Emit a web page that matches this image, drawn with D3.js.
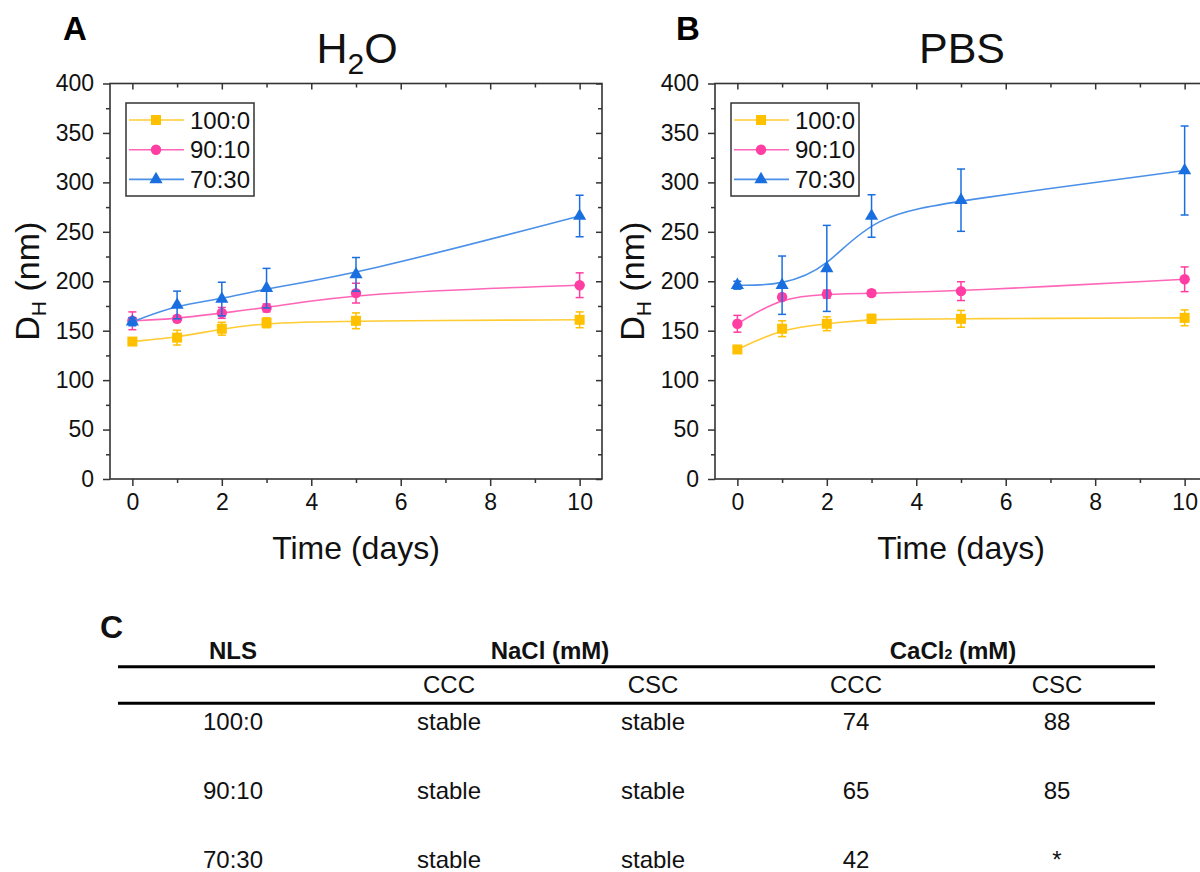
<!DOCTYPE html>
<html>
<head>
<meta charset="utf-8">
<script src="https://cdn.jsdelivr.net/npm/d3@7"></script>
<style>
  body { margin: 0; background: #fff; }
  svg { font-family: "Liberation Sans", Arial, sans-serif; }
</style>
</head>
<body>
<svg id="fig" width="1200" height="872"></svg>
<script>
// ---- data ----
const days = [0, 1, 2, 3, 5, 10];
const seriesNames = ["100:0", "90:10", "70:30"];

// H2O panel
const waterMean100 = [139, 143, 152, 158, 160, 161];
const waterErr100  = [3, 7.5, 6.5, 5, 8, 8];
const waterMean90  = [160, 162, 168, 173, 188, 196];
const waterErr90   = [9, 3, 5.5, 4, 10, 12.5];
const waterMean70  = [159, 176, 182, 193, 207, 266];
const waterErr70   = [4, 14, 17, 20, 17, 21];

// PBS panel
const pbsMean100 = [131, 152, 157, 162, 162, 163];
const pbsErr100  = [3, 8, 7, 4.5, 8.5, 8];
const pbsMean90  = [157, 184, 187, 188, 190, 202];
const pbsErr90   = [8.5, 3, 4, 3, 9.5, 12.5];
const pbsMean70  = [196, 196, 213, 266, 282, 312];
const pbsErr70   = [4, 29.5, 43.5, 21.5, 31.5, 45];

const yTicks = [0, 50, 100, 150, 200, 250, 300, 350, 400];
const yMinor = [25, 75, 125, 175, 225, 275, 325, 375];
const xTicks = [0, 2, 4, 6, 8, 10];
const xMinor = [1, 3, 5, 7, 9];

// table C
const tableHead = ["NLS", "NaCl (mM)", "CaCl"];
const tableSub  = ["", "CCC", "CSC", "CCC", "CSC"];
const tableRows = [
  ["100:0", "stable", "stable", "74", "88"],
  ["90:10", "stable", "stable", "65", "85"],
  ["70:30", "stable", "stable", "42", "*"]
];

const markerColors = ["#FFC000", "#FF3DA2", "#1A6FE0"];
const lineColors   = ["#FFCC33", "#FF66B8", "#4A90E8"];
const symbols = [d3.symbolSquare, d3.symbolCircle, d3.symbolTriangle];
const symbolSizes = [100, 85, 75];

const svg = d3.select("#fig");
svg.append("rect").attr("width", 1200).attr("height", 872).attr("fill", "#fff");

function drawPanel(left, letter, letterX, panelData) {
  const x = d3.scaleLinear().domain([-0.5, 10.5]).range([left, left + 492]);
  const y = d3.scaleLinear().domain([0, 400]).range([479, 83.5]);
  const g = svg.append("g");

  // axes
  const ax = (axis, tr) => {
    const a = g.append("g").attr("transform", tr).call(axis);
    a.select(".domain").remove();
    a.selectAll("line").attr("stroke", "#333").attr("stroke-width", 1.5);
    a.selectAll("text").attr("font-size", 23).attr("fill", "#111");
    return a;
  };
  ax(d3.axisLeft(y).tickValues(yTicks).tickSize(7).tickPadding(9), `translate(${left},0)`);
  ax(d3.axisLeft(y).tickValues(yMinor).tickSize(4).tickFormat(""), `translate(${left},0)`);
  ax(d3.axisBottom(x).tickValues(xTicks).tickSize(7).tickPadding(8), `translate(0,${y(0)})`);
  ax(d3.axisBottom(x).tickValues(xMinor).tickSize(4).tickFormat(""), `translate(0,${y(0)})`);
  ax(d3.axisTop(x).tickValues(xTicks).tickSize(-6).tickFormat(""), `translate(0,${y(400)})`);
  ax(d3.axisTop(x).tickValues(xMinor).tickSize(-4).tickFormat(""), `translate(0,${y(400)})`);
  ax(d3.axisRight(y).tickValues(yTicks).tickSize(-6).tickFormat(""), `translate(${left + 492},0)`);
  ax(d3.axisRight(y).tickValues(yMinor).tickSize(-4).tickFormat(""), `translate(${left + 492},0)`);

  g.append("rect")
    .attr("x", left).attr("y", y(400))
    .attr("width", 492).attr("height", y(0) - y(400))
    .attr("fill", "none").attr("stroke", "#333").attr("stroke-width", 1.6);

  // smoothed B-spline like the original plotting software
  const line = d3.line().x(d => x(d.t)).y(d => y(d.v)).curve(d3.curveBasis);

  panelData.series.forEach((s, i) => {
    const pts = days.map((t, k) => ({ t: t, v: s.mean[k], e: s.err[k] }));
    g.append("path").datum(pts)
      .attr("d", line).attr("fill", "none")
      .attr("stroke", lineColors[i]).attr("stroke-width", 1.6);
    const eb = g.append("g").attr("stroke", markerColors[i]).attr("stroke-width", 1.5);
    pts.forEach(p => {
      eb.append("line").attr("x1", x(p.t)).attr("x2", x(p.t)).attr("y1", y(p.v - p.e)).attr("y2", y(p.v + p.e));
      eb.append("line").attr("x1", x(p.t) - 4).attr("x2", x(p.t) + 4).attr("y1", y(p.v - p.e)).attr("y2", y(p.v - p.e));
      eb.append("line").attr("x1", x(p.t) - 4).attr("x2", x(p.t) + 4).attr("y1", y(p.v + p.e)).attr("y2", y(p.v + p.e));
    });
    g.selectAll(null).data(pts).enter().append("path")
      .attr("d", d3.symbol().type(symbols[i]).size(symbolSizes[i]))
      .attr("transform", d => `translate(${x(d.t)},${y(d.v)})`)
      .attr("fill", markerColors[i]);
  });

  // legend
  const lx = left + 16, ly = 103;
  g.append("rect").attr("x", lx).attr("y", ly).attr("width", 128).attr("height", 93)
    .attr("fill", "#fff").attr("stroke", "#333").attr("stroke-width", 1.5);
  seriesNames.forEach((name, i) => {
    const ry = ly + 17 + i * 29.7;
    g.append("line").attr("x1", lx + 3).attr("x2", lx + 58).attr("y1", ry).attr("y2", ry)
      .attr("stroke", lineColors[i]).attr("stroke-width", 1.6);
    g.append("path").attr("d", d3.symbol().type(symbols[i]).size(symbolSizes[i]))
      .attr("transform", `translate(${lx + 30},${ry})`).attr("fill", markerColors[i]);
    g.append("text").attr("x", lx + 64).attr("y", ry).attr("dy", "0.36em")
      .attr("font-size", 24).attr("fill", "#111").text(name);
  });

  // labels
  const cx = left + 246;
  g.append("text").attr("x", letterX).attr("y", 40).attr("font-size", 33)
    .attr("font-weight", "bold").text(letter);
  const title = g.append("text").attr("x", cx + 1).attr("y", 63).attr("text-anchor", "middle")
    .attr("font-size", 43).attr("fill", "#111");
  panelData.title(title);
  g.append("text").attr("x", cx).attr("y", 559).attr("text-anchor", "middle")
    .attr("font-size", 32).attr("fill", "#111").text("Time (days)");
  const yl = g.append("text")
    .attr("transform", `translate(${left - 71},${(y(0) + y(400)) / 2}) rotate(-90)`)
    .attr("text-anchor", "middle").attr("font-size", 34).attr("fill", "#111");
  yl.append("tspan").text("D");
  yl.append("tspan").attr("font-size", 21).attr("dy", 7).text("H");
  yl.append("tspan").attr("dy", -7).text(" (nm)");
}

drawPanel(110, "A", 63, {
  title: t => {
    t.append("tspan").text("H");
    t.append("tspan").attr("font-size", 30).attr("dy", 11).text("2");
    t.append("tspan").attr("dy", -11).text("O");
  },
  series: [
    { mean: waterMean100, err: waterErr100 },
    { mean: waterMean90, err: waterErr90 },
    { mean: waterMean70, err: waterErr70 }
  ]
});

drawPanel(715, "B", 676, {
  title: t => t.text("PBS"),
  series: [
    { mean: pbsMean100, err: pbsErr100 },
    { mean: pbsMean90, err: pbsErr90 },
    { mean: pbsMean70, err: pbsErr70 }
  ]
});

// ---- table C ----
const tg = svg.append("g").attr("fill", "#111");
const colX = [233, 449, 653, 856, 1057];
const headX = [233, 550, 953];
tg.append("text").attr("x", 100).attr("y", 638).attr("font-size", 32)
  .attr("font-weight", "bold").text("C");

tableHead.forEach((h, i) => {
  const t = tg.append("text").attr("x", headX[i]).attr("y", 659)
    .attr("text-anchor", "middle").attr("font-size", 24).attr("font-weight", "bold");
  if (i === 2) {
    t.append("tspan").text(h);
    t.append("tspan").attr("font-size", 14).text("2");
    t.append("tspan").text("  (mM)");
  } else {
    t.text(h);
  }
});

[666.7, 703.3].forEach(ly => {
  tg.append("line").attr("x1", 118).attr("x2", 1155).attr("y1", ly).attr("y2", ly)
    .attr("stroke", "#000").attr("stroke-width", 3);
});

tableSub.forEach((s, i) => {
  tg.append("text").attr("x", colX[i]).attr("y", 693).attr("text-anchor", "middle")
    .attr("font-size", 24).text(s);
});

const rowY = [730, 799, 868];
tableRows.forEach((row, r) => {
  row.forEach((cell, c) => {
    tg.append("text").attr("x", colX[c]).attr("y", rowY[r]).attr("text-anchor", "middle")
      .attr("font-size", 24).text(cell);
  });
});
</script>
</body>
</html>
